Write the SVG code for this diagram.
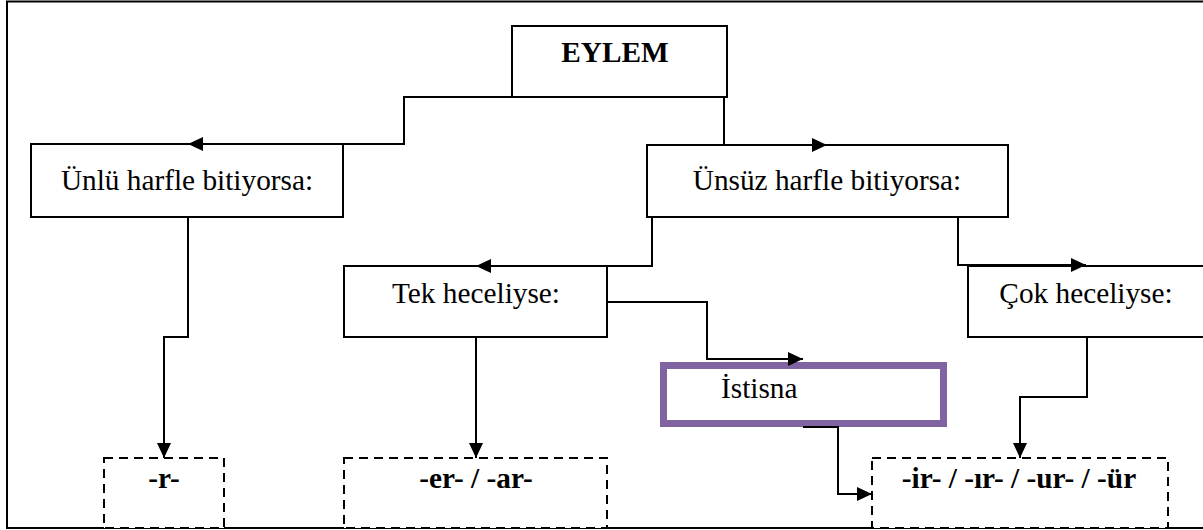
<svg xmlns="http://www.w3.org/2000/svg" width="1203" height="530" viewBox="0 0 1203 530">
<defs>
<style>
.box{fill:#fff;stroke:#000;stroke-width:2}
.dash{fill:#fff;stroke:#000;stroke-width:2;stroke-dasharray:9 6}
.ex{fill:#fff;stroke:#8064A2;stroke-width:7}
.t{font-family:"Liberation Serif","Times New Roman",serif;font-size:29.3px;fill:#000}
.b{font-weight:bold}
.c{text-anchor:middle}
.con{fill:none;stroke:#000;stroke-width:2}
</style>
<marker id="arr" viewBox="0 0 15 14" refX="15" refY="7" markerWidth="15" markerHeight="14" markerUnits="userSpaceOnUse" orient="auto">
<path d="M0,0 L15,7 L0,14 z" fill="#000"/>
</marker>
</defs>
<rect x="0" y="0" width="1203" height="530" fill="#fff"/>
<rect x="7" y="1.5" width="1210" height="526.5" fill="none" stroke="#000" stroke-width="2"/>

<g id="eylem"><rect class="box" x="512" y="26" width="215" height="71"/><text class="t b c" x="615" y="62">EYLEM</text></g>
<g id="unlu"><rect class="box" x="31" y="144" width="312" height="73"/><text class="t c" x="187" y="190">Ünlü harfle bitiyorsa:</text></g>
<g id="unsuz"><rect class="box" x="647" y="145" width="361" height="72"/><text class="t c" x="827" y="190">Ünsüz harfle bitiyorsa:</text></g>
<g id="tek"><rect class="box" x="344" y="266" width="263" height="71"/><text class="t c" x="476" y="303">Tek heceliyse:</text></g>
<g id="cok"><rect class="box" x="968" y="266" width="240" height="71"/><text class="t c" x="1086" y="303">Çok heceliyse:</text></g>
<g id="istisna"><rect class="ex" x="663.5" y="365.5" width="280" height="58"/><text class="t" x="721" y="398">İstisna</text></g>
<g id="r"><rect class="dash" x="104" y="458" width="120" height="70"/><text class="t b c" x="164" y="488">-r-</text></g>
<g id="erar"><rect class="dash" x="344" y="458" width="263" height="70"/><text class="t b c" x="476" y="488">-er- / -ar-</text></g>
<g id="irur"><rect class="dash" x="872" y="458" width="296" height="70"/><text class="t b c" x="1019" y="488">-ir- / -ır- / -ur- / -ür</text></g>

<g id="connectors">
<path class="con" d="M512,97 H404 V144 H188" marker-end="url(#arr)"/>
<path class="con" d="M724,97 V145 H827" marker-end="url(#arr)"/>
<path class="con" d="M188,217 V337 H164 V458" marker-end="url(#arr)"/>
<path class="con" d="M652,217 V266 H476" marker-end="url(#arr)"/>
<path class="con" d="M958,217 V265 H1086" marker-end="url(#arr)"/>
<path class="con" d="M476,337 V458" marker-end="url(#arr)"/>
<path class="con" d="M607,302 H707 V359 H803" marker-end="url(#arr)"/>
<path class="con" d="M803,427 H838 V494 H872" marker-end="url(#arr)"/>
<path class="con" d="M1087,337 V397 H1020 V458" marker-end="url(#arr)"/>
</g>
</svg>
